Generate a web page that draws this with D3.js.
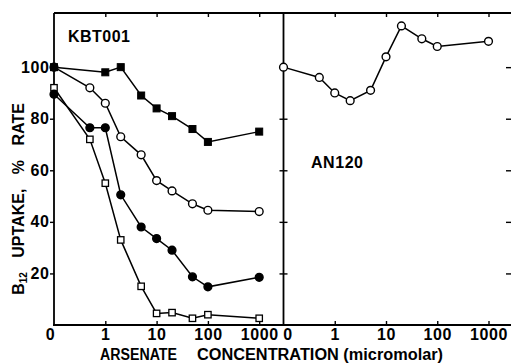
<!DOCTYPE html>
<html>
<head>
<meta charset="utf-8">
<script src="https://cdn.jsdelivr.net/npm/d3@7.9.0/dist/d3.min.js"></script>
<style>
  body { margin: 0; background: #fff; }
  svg { display: block; font-family: "Liberation Sans", Arial, sans-serif; font-weight: bold; }
  .tick text { font-size: 16px; letter-spacing: 0.6px; font-weight: bold; fill: #000; font-family: "Liberation Sans", Arial, sans-serif; }
  .tick line { stroke: #000; stroke-width: 1.4; }
</style>
</head>
<body>
<svg id="chart" width="511" height="364"></svg>
<script>
// --- 1. Data ---
// concentration 0 is drawn one decade below 1 on the log axis
const concAll = [0, 0.5, 1, 2, 5, 10, 20, 50, 100, 1000];
const concFilledSquare = [0, 1, 2, 5, 10, 20, 50, 100, 1000];

const kbtFilledSquare = [100, 98, 100, 89, 84, 81, 76, 71, 75];
const kbtOpenCircle = [100, 92, 86, 73, 66, 56, 52, 47, 44.5, 44];
const kbtFilledCircle = [89.5, 76.5, 76.5, 50.5, 38, 33.5, 29, 18.7, 14.8, 18.5];
const kbtOpenSquare = [92, 72, 55, 33, 15, 4.5, 4.8, 2.6, 4, 2.6];

const an120OpenCircle = [100, 96, 90, 87, 91, 104, 116, 111, 108, 110];

const xTicks = [0, 1, 10, 100, 1000];
const yTicks = [20, 40, 60, 80, 100];

// --- 2. Scales ---
const svg = d3.select('#chart');
const marginL = 54, panelW = 229.5, marginT = 13;
const zeroAt = 0.1;
const pos = (c) => (c === 0 ? zeroAt : c);

const xL = d3.scaleLog().domain([zeroAt, 1000]).range([marginL, marginL + 205.2]);
const xR = d3.scaleLog().domain([zeroAt, 1000]).range([marginL + panelW, marginL + panelW + 205]);
const y = d3.scaleLinear().domain([0, 121]).range([325, marginT]);
const bottom = y(0);
const rightEdge = 512;

// --- 3. Axes (ticks + labels) ---
function xAxes(x, zeroDx) {
  const b = svg.append('g').attr('transform', `translate(0,${bottom})`)
    .call(d3.axisBottom(x).tickValues(xTicks.map(pos)).tickSizeInner(-4).tickSizeOuter(0).tickPadding(4)
      .tickFormat((d) => (d === zeroAt ? '0' : d)));
  b.select('.domain').remove();
  b.selectAll('.tick').filter((d) => d === zeroAt).select('line').remove();
  b.selectAll('.tick').filter((d) => d === zeroAt).select('text').attr('dx', zeroDx);

  const t = svg.append('g').attr('transform', `translate(0,${marginT})`)
    .call(d3.axisTop(x).tickValues([1, 10, 100, 1000]).tickSizeInner(-4).tickSizeOuter(0).tickFormat(''));
  t.select('.domain').remove();
}
xAxes(xL, -4);
xAxes(xR, 4);

const yl = svg.append('g').attr('transform', `translate(${marginL},0)`)
  .call(d3.axisLeft(y).tickValues(yTicks).tickSizeInner(4).tickSizeOuter(0).tickPadding(2));
yl.select('.domain').remove();
yl.selectAll('text').attr('dx', 1.5);

// divider ticks on both sides, right edge ticks inward
[[d3.axisLeft, marginL + panelW, 4], [d3.axisRight, marginL + panelW, 4], [d3.axisLeft, rightEdge, 6]].forEach(([ax, xp, s]) => {
  const g = svg.append('g').attr('transform', `translate(${xp},0)`)
    .call(ax(y).tickValues(yTicks).tickSizeInner(s).tickSizeOuter(0).tickFormat(''));
  g.select('.domain').remove();
});

// --- 4. Frame ---
const frame = d3.path();
frame.moveTo(marginL, marginT); frame.lineTo(rightEdge, marginT);
frame.moveTo(marginL, marginT); frame.lineTo(marginL, bottom);
frame.moveTo(marginL + panelW, marginT); frame.lineTo(marginL + panelW, bottom);
frame.moveTo(marginL - 1, bottom); frame.lineTo(rightEdge, bottom);
svg.append('path').attr('d', frame.toString()).attr('fill', 'none')
  .attr('stroke', '#000').attr('stroke-width', 1.8);

// --- 5. Series ---
function drawSeries(x, conc, vals, shape, filled) {
  const pts = conc.map((c, i) => [x(pos(c)), y(vals[i])]);
  svg.append('path').attr('d', d3.line()(pts)).attr('fill', 'none')
    .attr('stroke', '#000').attr('stroke-width', 1.5);
  const g = svg.append('g');
  pts.forEach(([px, py]) => {
    if (shape === 'circle') {
      g.append('circle').attr('cx', px).attr('cy', py).attr('r', 3.9)
        .attr('fill', filled ? '#000' : '#fff').attr('stroke', '#000').attr('stroke-width', 1.4);
    } else {
      const s = filled ? 7 : 6.4;
      g.append('rect').attr('x', px - s / 2).attr('y', py - s / 2).attr('width', s).attr('height', s)
        .attr('fill', filled ? '#000' : '#fff').attr('stroke', '#000').attr('stroke-width', filled ? 1 : 1.3);
    }
  });
}

drawSeries(xL, concAll, kbtOpenSquare, 'square', false);
drawSeries(xL, concAll, kbtFilledCircle, 'circle', true);
drawSeries(xL, concAll, kbtOpenCircle, 'circle', false);
drawSeries(xL, concFilledSquare, kbtFilledSquare, 'square', true);
drawSeries(xR, concAll, an120OpenCircle, 'circle', false);

// --- 6. Labels ---
svg.append('text').attr('x', 68).attr('y', 42).attr('font-size', 16).attr('textLength', 62).text('KBT001');
svg.append('text').attr('x', 311).attr('y', 168).attr('font-size', 16).attr('textLength', 52).text('AN120');

const yLabel = svg.append('text')
  .attr('transform', 'translate(23.5,199) rotate(-90)')
  .attr('text-anchor', 'middle').attr('font-size', 16).attr('word-spacing', 10);
yLabel.append('tspan').text('B');
yLabel.append('tspan').attr('font-size', 10).attr('dy', 3).text('12');
yLabel.append('tspan').attr('dy', -3).text(' UPTAKE, % RATE');

svg.append('text').attr('x', 100).attr('y', 360).attr('font-size', 16)
  .attr('textLength', 77).attr('lengthAdjust', 'spacingAndGlyphs').text('ARSENATE');
svg.append('text').attr('x', 197).attr('y', 360).attr('font-size', 16)
  .attr('textLength', 246).attr('lengthAdjust', 'spacingAndGlyphs').text('CONCENTRATION (micromolar)');
</script>
</body>
</html>
